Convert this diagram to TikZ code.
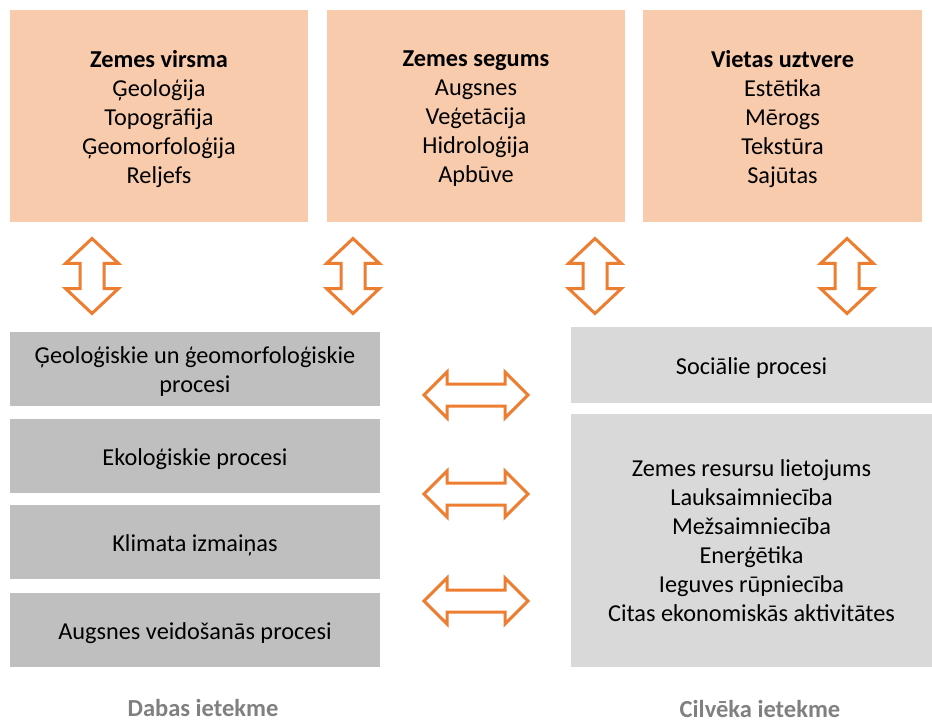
\documentclass[tikz,border=0pt]{standalone}
\usepackage{fontspec}
\setmainfont{Carlito}
\definecolor{peach}{HTML}{F8CBAD}
\definecolor{gdark}{HTML}{BFBFBF}
\definecolor{glight}{HTML}{D9D9D9}
\definecolor{orng}{HTML}{ED7D31}
\definecolor{lblgray}{HTML}{808080}
\begin{document}
\begin{tikzpicture}[x=1pt,y=-1pt,
  boxtext/.style={inner sep=0pt, align=center, font=\fontsize{24.3}{29}\selectfont, text=black},
  topbox/.style={inner sep=0pt, fill=peach, minimum width=298pt, minimum height=212pt},
  leftbox/.style={inner sep=0pt, fill=gdark, minimum width=370pt, minimum height=74pt},
  rightbox/.style={inner sep=0pt, fill=glight, minimum width=361pt},
  arrowline/.style={draw=orng, line width=3pt, fill=white, line join=miter},
  lbl/.style={inner sep=0pt, anchor=base, text=lblgray, font=\fontsize{24.5}{29}\selectfont\bfseries},
  vda/.pic={\path[arrowline] (0,-37.5) -- (26.5,-12.5) -- (12,-12.5) -- (12,12.5) -- (26.5,12.5) -- (0,37.5) -- (-26.5,12.5) -- (-12,12.5) -- (-12,-12.5) -- (-26.5,-12.5) -- cycle;},
  hda/.pic={\path[arrowline] (-52,0) -- (-29,-23) -- (-29,-11) -- (29,-11) -- (29,-23) -- (52,0) -- (29,23) -- (29,11) -- (-29,11) -- (-29,23) -- cycle;}
]
\useasboundingbox (0,0) rectangle (932,722);
% top boxes
\node[topbox] (t1) at (159,116) {};
\node[topbox] (t2) at (476,116) {};
\node[topbox, minimum width=279pt] (t3) at (782.5,116) {};
\node[boxtext] (t1t) at ([yshift=-3pt]t1.center) {\textbf{Zemes virsma}\\Ģeoloģija\\Topogrāfija\\Ģeomorfoloģija\\Reljefs};
\node[boxtext] (t2t) at ([yshift=-3pt]t2.center) {\textbf{Zemes segums}\\Augsnes\\Veģetācija\\Hidroloģija\\Apbūve};
\node[boxtext] (t3t) at ([yshift=-3pt]t3.center) {\textbf{Vietas uztvere}\\Estētika\\Mērogs\\Tekstūra\\Sajūtas};
% vertical arrows
\pic (va1) at (92,276) {vda};
\pic (va2) at (353,276) {vda};
\pic (va3) at (595,276) {vda};
\pic (va4) at (847,276) {vda};
% left boxes
\node[leftbox] (l1) at (195,369) {};
\node[leftbox] (l2) at (195,456) {};
\node[leftbox] (l3) at (195,542) {};
\node[leftbox] (l4) at (195,630) {};
\node[boxtext] (l1t) at ([yshift=-3pt]l1.center) {Ģeoloģiskie un ģeomorfoloģiskie\\procesi};
\node[boxtext] (l2t) at ([yshift=-3pt]l2.center) {Ekoloģiskie procesi};
\node[boxtext] (l3t) at ([yshift=-3pt]l3.center) {Klimata izmaiņas};
\node[boxtext] (l4t) at ([yshift=-3pt]l4.center) {Augsnes veidošanās procesi};
% right boxes
\node[rightbox, minimum height=76pt] (r1) at (751.5,365) {};
\node[rightbox, minimum height=253pt] (r2) at (751.5,540.5) {};
\node[boxtext] (r1t) at ([yshift=-3pt]r1.center) {Sociālie procesi};
\node[boxtext] (r2t) at (r2.center) {Zemes resursu lietojums\\Lauksaimniecība\\Mežsaimniecība\\Enerģētika\\Ieguves rūpniecība\\Citas ekonomiskās aktivitātes};
% horizontal arrows
\pic (ha1) at (476,395) {hda};
\pic (ha2) at (476,494) {hda};
\pic (ha3) at (476,601) {hda};
% labels
\node[lbl] (dabas) at (203,716) {Dabas ietekme};
\node[lbl] (cilv) at (760,717) {Cilvēka ietekme};
\end{tikzpicture}
\end{document}
